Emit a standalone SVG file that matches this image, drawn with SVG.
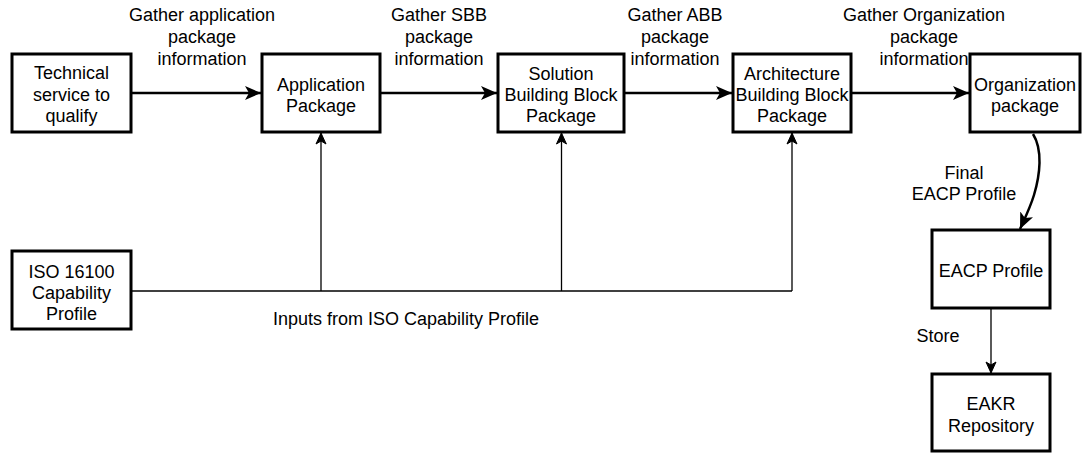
<svg xmlns="http://www.w3.org/2000/svg" width="1083" height="454" viewBox="0 0 1083 454">
<style>
.box{fill:#fff;stroke:#000;stroke-width:3}
text{font-family:"Liberation Sans",Arial,Helvetica,sans-serif;font-size:18px;fill:#000;text-anchor:middle}
.thick{fill:none;stroke:#000;stroke-width:2.5}
.thin{fill:none;stroke:#000;stroke-width:1.3}
</style>
<defs>
<marker id="big" markerUnits="userSpaceOnUse" markerWidth="18" markerHeight="18" refX="16" refY="8" orient="auto" viewBox="0 0 18 16">
<path d="M0,1 L16,8 L0,15 L4,8 Z" fill="#000"/>
</marker>
<marker id="small" markerUnits="userSpaceOnUse" markerWidth="14" markerHeight="14" refX="12" refY="6" orient="auto" viewBox="0 0 14 12">
<path d="M1,1 L12,6 L1,11 L4,6 Z" fill="#000" stroke="#000" stroke-width="1"/>
</marker>
</defs>
<g id="connectors">
<path class="thick" d="M132,93 H261" marker-end="url(#big)"/>
<path class="thick" d="M381,93 H497" marker-end="url(#big)"/>
<path class="thick" d="M625,93 H732" marker-end="url(#big)"/>
<path class="thick" d="M852,93 H969" marker-end="url(#big)"/>
<path class="thin" d="M132,291 H792"/>
<path class="thin" d="M321,291 V133" marker-end="url(#small)"/>
<path class="thin" d="M561.5,291 V133" marker-end="url(#small)"/>
<path class="thin" d="M792,291 V133" marker-end="url(#small)"/>
<path class="thin" d="M991,309 V373" marker-end="url(#small)"/>
<path class="thick" d="M1033,134 C1043,150 1040,175 1034,195 C1030,208 1025,218 1020,229" marker-end="url(#big)"/>
<text x="202" y="21">Gather application</text>
<text x="202" y="43">package</text>
<text x="202" y="65">information</text>
<text x="439" y="21">Gather SBB</text>
<text x="439" y="43">package</text>
<text x="439" y="65">information</text>
<text x="675" y="21">Gather ABB</text>
<text x="675" y="43">package</text>
<text x="675" y="65">information</text>
<text x="924" y="21">Gather Organization</text>
<text x="924" y="43">package</text>
<text x="924" y="65">information</text>
<text x="964" y="179">Final</text>
<text x="964" y="200">EACP Profile</text>
<text x="938" y="342">Store</text>
<text x="406" y="325">Inputs from ISO Capability Profile</text>
</g>
<g id="technical">
<rect class="box" x="12" y="54" width="119" height="78"/>
<text x="71.5" y="79">Technical</text>
<text x="71.5" y="101">service to</text>
<text x="71.5" y="122">qualify</text>
</g>
<g id="application">
<rect class="box" x="262" y="54" width="118" height="78"/>
<text x="321" y="91">Application</text>
<text x="321" y="112">Package</text>
</g>
<g id="sbb">
<rect class="box" x="498" y="54" width="126" height="78"/>
<text x="561" y="80">Solution</text>
<text x="561" y="101">Building Block</text>
<text x="561" y="122">Package</text>
</g>
<g id="abb">
<rect class="box" x="733" y="54" width="118" height="78"/>
<text x="792" y="80">Architecture</text>
<text x="792" y="101">Building Block</text>
<text x="792" y="122">Package</text>
</g>
<g id="organization">
<rect class="box" x="970" y="54" width="110" height="78"/>
<text x="1025" y="91">Organization</text>
<text x="1025" y="112">package</text>
</g>
<g id="iso">
<rect class="box" x="12" y="251" width="119" height="78"/>
<text x="71.5" y="278">ISO 16100</text>
<text x="71.5" y="299">Capability</text>
<text x="71.5" y="320">Profile</text>
</g>
<g id="eacp">
<rect class="box" x="932" y="230" width="118" height="78"/>
<text x="991" y="277">EACP Profile</text>
</g>
<g id="eakr">
<rect class="box" x="932" y="374" width="118" height="77"/>
<text x="991" y="410">EAKR</text>
<text x="991" y="432">Repository</text>
</g>
</svg>
